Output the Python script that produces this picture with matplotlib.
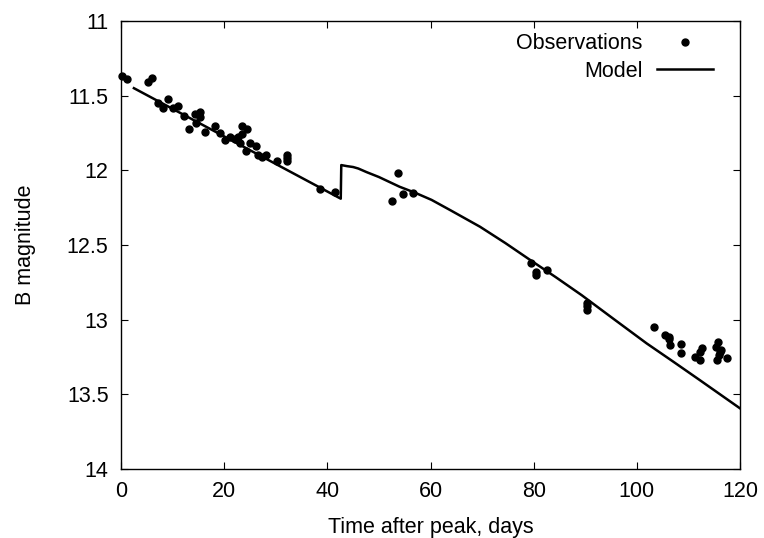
import numpy as np
import matplotlib
matplotlib.use('Agg')
from matplotlib import pyplot as plt

plt.rcParams['font.family'] = ['Liberation Sans', 'DejaVu Sans']

# observations (day, B mag)
obs_t = [0.1, 1.2, 5.2, 6.1, 7.2, 8.2, 9.2, 10.1, 11.1, 12.2, 13.2, 14.3, 14.5, 15.3, 15.3,
         16.2, 18.2, 19.2, 20.2, 21.1, 22.1, 22.7, 23.5, 24.5, 23.4, 23.1, 24.2, 25.0, 26.1,
         26.6, 27.3, 28.2, 30.2, 32.1, 32.1, 32.1, 38.5, 41.5,
         52.6, 53.6, 54.6, 56.7,
         79.4, 80.5, 80.5, 82.5, 90.4, 90.4, 90.4,
         103.3, 105.5, 106.3, 106.3, 106.4, 108.5, 108.5, 111.3, 112.3, 112.3, 112.6,
         115.4, 115.8, 116.1, 115.5, 117.4, 115.9, 116.3]
obs_m = [11.366, 11.39, 11.41, 11.38, 11.547, 11.585, 11.525, 11.585, 11.567, 11.636, 11.72,
         11.62, 11.685, 11.61, 11.64, 11.745, 11.70, 11.75, 11.80, 11.775, 11.79, 11.78, 11.70,
         11.725, 11.76, 11.815, 11.87, 11.82, 11.84, 11.90, 11.91, 11.90, 11.94, 11.90, 11.92,
         11.94, 12.127, 12.147,
         12.205, 12.016, 12.159, 12.154,
         12.62, 12.68, 12.70, 12.668, 12.89, 12.91, 12.935,
         13.05, 13.10, 13.115, 13.13, 13.17, 13.163, 13.226, 13.248, 13.215, 13.27, 13.19,
         13.18, 13.148, 13.215, 13.27, 13.26, 13.24, 13.2]

# model curve
mod_t = [2.5, 42.6, 42.7, 43.8, 45.0, 46.0, 47.6, 50.0, 54.0, 57.0, 60.2, 64.0, 69.6, 74.5,
         79.3, 84.3, 89.3, 95.6, 101.9, 107.0, 112.0, 120.0]
mod_m = [11.45, 12.19, 11.965, 11.972, 11.978, 11.988, 12.012, 12.045, 12.11, 12.15, 12.198,
         12.27, 12.378, 12.487, 12.60, 12.716, 12.836, 12.998, 13.159, 13.28, 13.40, 13.594]

fs = 15.5

fig = plt.figure(figsize=(7.64, 5.38), dpi=100)
ax = fig.add_axes([0.1584, 0.1283, 0.8102, 0.8327])

ax.plot(obs_t, obs_m, 'o', color='black', markersize=5, clip_on=False, label='Observations')
ax.plot(mod_t, mod_m, '-', color='black', linewidth=1.8, label='Model')

ax.set_xlim(0, 120)
ax.set_ylim(14, 11)
ax.set_xticks(np.arange(0, 121, 20))
ax.set_yticks(np.arange(11, 14.01, 0.5))
ax.set_yticklabels(['11', '11.5', '12', '12.5', '13', '13.5', '14'])
ax.tick_params(direction='in', top=True, right=True, length=5, labelsize=fs, pad=9)
for s in ax.spines.values():
    s.set_linewidth(1)

ax.set_xlabel('Time after peak, days', fontsize=fs)
ax.set_ylabel('B magnitude', fontsize=fs)
ax.xaxis.set_label_coords(0.5, -0.107)
ax.yaxis.set_label_coords(-0.138, 0.5)

ax.legend(loc='upper right', bbox_to_anchor=(0.956, 0.973), frameon=False, markerfirst=False,
          fontsize=fs, handlelength=2.6, handletextpad=0.65, borderpad=0, borderaxespad=0,
          labelspacing=0.3)

fig.savefig('out.png', dpi=100)
